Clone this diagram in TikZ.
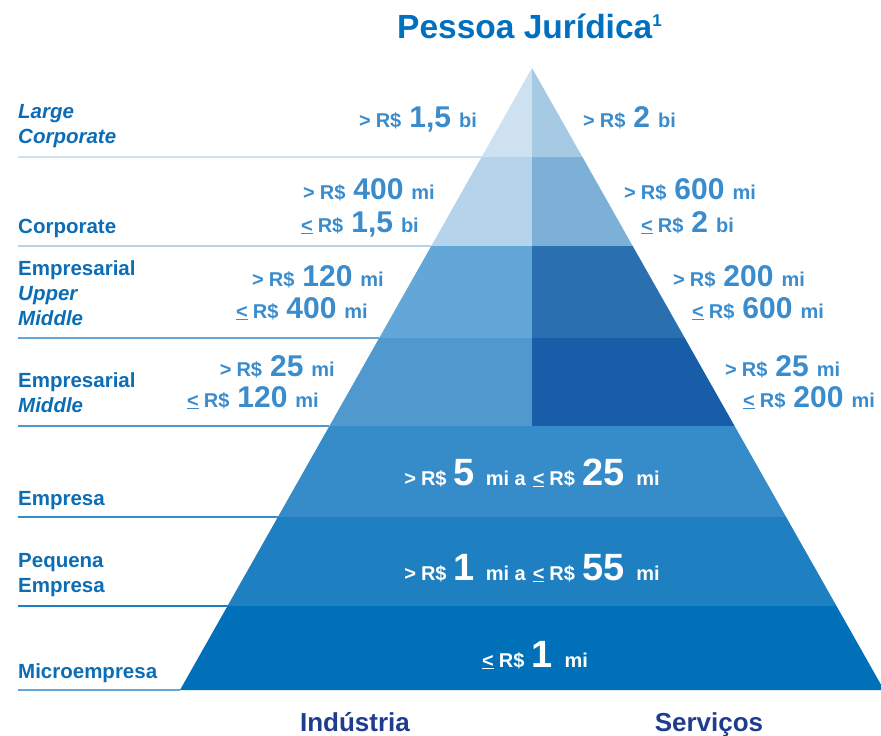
\documentclass[tikz,border=0pt]{standalone}
\usepackage{fontspec}
\setmainfont{Liberation Sans}
\definecolor{aL}{HTML}{CDE1F0}
\definecolor{aR}{HTML}{A6C9E4}
\definecolor{bL}{HTML}{B5D4EB}
\definecolor{bR}{HTML}{7CB0D7}
\definecolor{cL}{HTML}{62A7D7}
\definecolor{cR}{HTML}{2A6FB0}
\definecolor{dL}{HTML}{4F99CE}
\definecolor{dR}{HTML}{185DA7}
\definecolor{eB}{HTML}{368CC9}
\definecolor{fB}{HTML}{1E7FC1}
\definecolor{gB}{HTML}{0071B9}
\definecolor{valc}{HTML}{3A8CCC}
\definecolor{labc}{HTML}{0B6DB6}
\definecolor{titc}{HTML}{0070C0}
\definecolor{navy}{HTML}{1F3C8F}
\newcommand{\smf}{\fontsize{20}{22}\selectfont}
\newcommand{\bgf}{\fontsize{30}{32}\selectfont}
\newcommand{\hgf}{\fontsize{38}{40}\selectfont}
\newcommand{\gtv}[2]{{\smf >\hspace{5pt}R\$}\hspace{8pt}{\bgf #1}\hspace{8pt}{\smf #2}}
\newcommand{\lev}[2]{{\smf \underline{<}\hspace{5pt}R\$}\hspace{8pt}{\bgf #1}\hspace{8pt}{\smf #2}}
\begin{document}
\begin{tikzpicture}[x=1pt,y=-1pt,
  sepline/.style={line width=1.6pt},
  labtxt/.style={anchor=base west,inner sep=0pt,text=labc,font=\fontsize{20.5}{25}\selectfont\bfseries,align=left},
  valL/.style={anchor=base east,inner sep=0pt,text=valc,font=\bfseries},
  valR/.style={anchor=base west,inner sep=0pt,text=valc,font=\bfseries},
  valW/.style={anchor=base,inner sep=0pt,text=white,font=\bfseries},
  axis/.style={anchor=base,inner sep=0pt,text=navy,font=\fontsize{26}{28}\selectfont\bfseries}]
\useasboundingbox (0,0) rectangle (881,736);
% pyramid bands
\fill[aL] (532,68) -- (481.6,157) -- (532,157) -- cycle;
\fill[aR] (532,68) -- (582.4,157) -- (532,157) -- cycle;
\fill[bL] (481.6,157) -- (431.3,246) -- (532,246) -- (532,157) -- cycle;
\fill[bR] (532,157) -- (582.4,157) -- (632.7,246) -- (532,246) -- cycle;
\fill[cL] (431.3,246) -- (379.2,338) -- (532,338) -- (532,246) -- cycle;
\fill[cR] (532,246) -- (632.7,246) -- (684.8,338) -- (532,338) -- cycle;
\fill[dL] (379.2,338) -- (329.4,426) -- (532,426) -- (532,338) -- cycle;
\fill[dR] (532,338) -- (684.8,338) -- (734.6,426) -- (532,426) -- cycle;
\fill[eB] (329.4,426) -- (277.9,517) -- (786.1,517) -- (734.6,426) -- cycle;
\fill[fB] (277.9,517) -- (227.5,606) -- (836.5,606) -- (786.1,517) -- cycle;
\fill[gB] (227.5,606) -- (180,690) -- (884,690) -- (836.5,606) -- cycle;
% separator lines
\draw[sepline,aL] (18,157) -- (481.6,157);
\draw[sepline,bL] (18,246) -- (431.3,246);
\draw[sepline,cL] (18,338) -- (379.2,338);
\draw[sepline,dL] (18,426) -- (329.4,426);
\draw[sepline,eB] (18,517) -- (277.9,517);
\draw[sepline,fB] (18,606) -- (227.5,606);
\draw[sepline,cL] (18,690) -- (180,690);
% title
\node[anchor=base,inner sep=0pt,text=titc,font=\fontsize{33.5}{36}\selectfont\bfseries] (title) at (529.5,38)
  {Pessoa Jurídica\raisebox{12pt}{\fontsize{17}{17}\selectfont 1}};
% left labels (base = last line)
\node[labtxt] (l1) at (18,143) {\itshape Large\\\itshape Corporate};
\node[labtxt] (l2) at (18,233) {Corporate};
\node[labtxt] (l3) at (18,325) {Empresarial\\\itshape Upper\\\itshape Middle};
\node[labtxt] (l4) at (18,412) {Empresarial\\\itshape Middle};
\node[labtxt] (l5) at (18,505) {Empresa};
\node[labtxt] (l6) at (18,592) {Pequena\\Empresa};
\node[labtxt] (l7) at (18,678) {Microempresa};
% values band 1
\node[valL] (v1l) at (477,127) {\gtv{1,5}{bi}};
\node[valR] (v1r) at (583,127) {\gtv{2}{bi}};
% band 2
\node[valL] (v2la) at (435,199) {\gtv{400}{mi}};
\node[valL] (v2lb) at (419,232) {\lev{1,5}{bi}};
\node[valR] (v2ra) at (624,199) {\gtv{600}{mi}};
\node[valR] (v2rb) at (641,232) {\lev{2}{bi}};
% band 3
\node[valL] (v3la) at (384,286) {\gtv{120}{mi}};
\node[valL] (v3lb) at (368,318) {\lev{400}{mi}};
\node[valR] (v3ra) at (673,286) {\gtv{200}{mi}};
\node[valR] (v3rb) at (692,318) {\lev{600}{mi}};
% band 4
\node[valL] (v4la) at (335,376) {\gtv{25}{mi}};
\node[valL] (v4lb) at (319,407) {\lev{120}{mi}};
\node[valR] (v4ra) at (725,376) {\gtv{25}{mi}};
\node[valR] (v4rb) at (743,407) {\lev{200}{mi}};
% bands 5-7
\node[valW] (v5) at (532,485) {{\smf >\hspace{5pt}R\$}\hspace{7pt}{\hgf 5}\hspace{11pt}{\smf mi a}\hspace{7pt}{\smf \underline{<}\hspace{5pt}R\$}\hspace{7pt}{\hgf 25}\hspace{12pt}{\smf mi}};
\node[valW] (v6) at (532,580) {{\smf >\hspace{5pt}R\$}\hspace{7pt}{\hgf 1}\hspace{11pt}{\smf mi a}\hspace{7pt}{\smf \underline{<}\hspace{5pt}R\$}\hspace{7pt}{\hgf 55}\hspace{12pt}{\smf mi}};
\node[valW] (v7) at (535,667) {{\smf \underline{<}\hspace{5pt}R\$}\hspace{7pt}{\hgf 1}\hspace{12pt}{\smf mi}};
% axis labels
\node[axis] (ind) at (355,731) {Indústria};
\node[axis] (ser) at (709,731) {Serviços};
\end{tikzpicture}
\end{document}
